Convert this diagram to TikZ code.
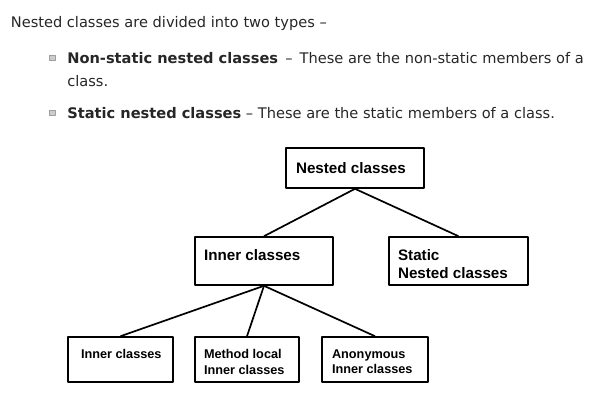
\documentclass[tikz,border=0pt]{standalone}
\usepackage{fontspec}
\setmainfont{Liberation Sans}
\newfontfamily\prosefont{DejaVu Sans}
\usetikzlibrary{positioning}

\begin{document}
\begin{tikzpicture}[x=1pt, y=-1pt, line width=1.7pt, line join=round,
  box/.style={draw, line width=1.6pt, inner sep=0pt},
  boxtxt/.style={anchor=north west, inner sep=0pt, align=left, font=\fontsize{15.2}{18}\selectfont\bfseries},
  leaftxt/.style={anchor=north west, inner sep=0pt, align=left, font=\fontsize{12.7}{15.5}\selectfont\bfseries},
  prose/.style={anchor=base west, inner sep=0pt, text=black!85, font=\prosefont\fontsize{14.6}{17}\selectfont},
  bullet/.style={draw=gray!75, fill=gray!40, line width=0.8pt, minimum size=5.5pt, inner sep=0pt}]

  %% ════ 上方说明文字 ════
  \node[prose] (head) at (10,27) {Nested classes are divided into two types –};
  \node[bullet] (dot1) at (52.2,58) {};
  \node[prose] (item1) at (66.5,63.3) {\textbf{Non-static nested classes} \,–\, These are the non-static members of a};
  \node[prose] (item1b) at (66.5,86.5) {class.};
  \node[bullet] (dot2) at (52.2,113) {};
  \node[prose] (item2) at (66.5,118.3) {\textbf{Static nested classes} – These are the static members of a class.};

  %% ════ 方框 ════
  \node[box, minimum width=138pt, minimum height=40pt] (nested) at (355,168) {};
  \node[box, minimum width=138pt, minimum height=48pt] (inner) at (264,261) {};
  \node[box, minimum width=139pt, minimum height=48pt] (static) at (458.5,261) {};
  \node[box, minimum width=105pt, minimum height=45pt] (leafA) at (120.5,359.5) {};
  \node[box, minimum width=104pt, minimum height=45pt] (leafB) at (247,359.5) {};
  \node[box, minimum width=106pt, minimum height=45pt] (leafC) at (375,359.5) {};

  %% ════ 框内文字（左对齐，靠上）════
  \node[boxtxt, anchor=west] (nestedT) at ([xshift=10pt]nested.west) {Nested classes};
  \node[boxtxt] (innerT) at ([xshift=9pt, yshift=-12.7pt]inner.north west) {Inner classes};
  \node[boxtxt] (staticT) at ([xshift=9pt, yshift=-12.7pt]static.north west) {Static\\Nested classes};
  \node[leaftxt] (leafAT) at ([xshift=13pt, yshift=-12.5pt]leafA.north west) {Inner classes};
  \node[leaftxt] (leafBT) at ([xshift=9pt, yshift=-12.5pt]leafB.north west) {Method local\\Inner classes};
  \node[leaftxt] (leafCT) at ([xshift=10pt, yshift=-12.5pt]leafC.north west) {Anonymous\\Inner classes};

  %% ════ 连线 ════
  \draw (nested.south) -- (inner.north);
  \draw (nested.south) -- (static.north);
  \draw (inner.south) -- (leafA.north);
  \draw (inner.south) -- (leafB.north);
  \draw (inner.south) -- (leafC.north);

  % 钉死画布
  \pgfresetboundingbox
  \path[use as bounding box] (0,0) rectangle (600,400);
\end{tikzpicture}
\end{document}
